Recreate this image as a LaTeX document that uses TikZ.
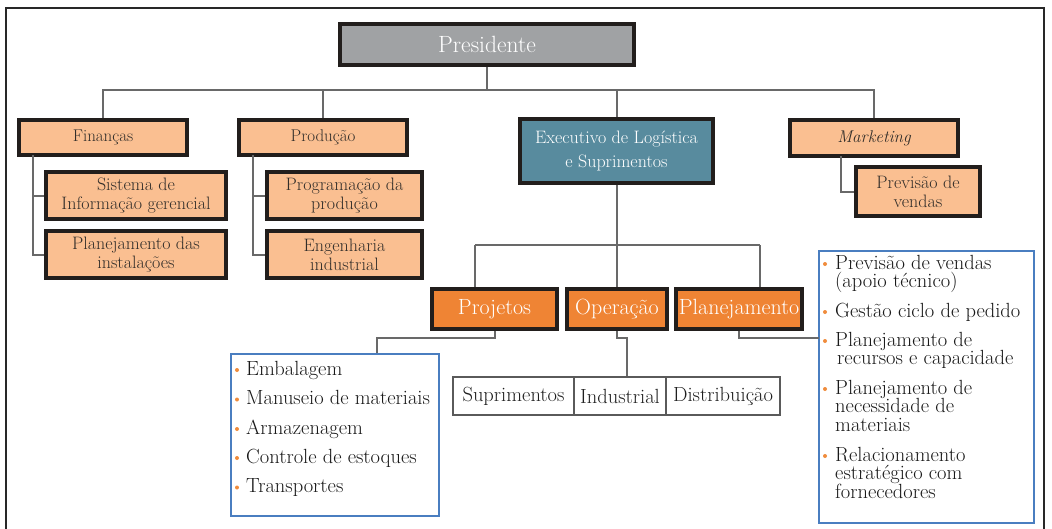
\documentclass[tikz,border=0pt]{standalone}
\definecolor{peachc}{RGB}{250,191,145}
\definecolor{tealc}{RGB}{88,139,158}
\definecolor{orangec}{RGB}{239,132,52}
\definecolor{presc}{RGB}{160,162,164}
\definecolor{edgec}{RGB}{34,30,28}
\definecolor{linec}{RGB}{105,105,105}
\definecolor{bluec}{RGB}{74,126,192}
\definecolor{bulc}{RGB}{240,140,60}
\definecolor{txtc}{RGB}{50,46,42}
\definecolor{framec}{RGB}{40,40,40}
\definecolor{subedge}{RGB}{90,90,90}
\begin{document}
\begin{tikzpicture}[x=1pt,y=-1pt,
  conn/.style={draw=linec, line width=2pt},
  box/.style={draw=edgec, line width=3.2pt, inner sep=0pt, align=center},
  peachbox/.style={box, fill=peachc, text=txtc, font=\fontsize{17}{20}\selectfont},
  subbox/.style={box, fill=peachc, text=txtc, font=\fontsize{18}{19}\selectfont},
  orangebox/.style={box, fill=orangec, text=white, font=\fontsize{22}{24}\selectfont},
  opbox/.style={draw=subedge, line width=2.6pt, fill=white, inner sep=0pt, text=black!88,
                font=\fontsize{20.5}{22}\selectfont},
  listbox/.style={draw=bluec, line width=2.2pt, fill=white, inner sep=0pt},
  item/.style={anchor=base west, inner sep=0pt, text=black!90, font=\fontsize{20.5}{22}\selectfont},
  bullet/.style={fill=bulc},
]
\useasboundingbox (0,0) rectangle (1052,528);

% outer frame, open at the bottom edge
\begin{scope}
  \clip (0,0) rectangle (1052,528);
  \draw[draw=framec, line width=2.4pt] (6,560) -- (6,8) -- (1044,8) -- (1044,560);
\end{scope}

% top level
\node[box, fill=presc, line width=4pt, text=white, font=\fontsize{23.5}{26}\selectfont,
      minimum width=294pt, minimum height=41pt] (pres) at (487,44.5) {Presidente};

\node[peachbox, minimum width=168pt, minimum height=35pt] (fin) at (103,137.5) {Finanças};
\node[peachbox, minimum width=168pt, minimum height=35pt] (prod) at (323,137.5) {Produção};
\node[box, fill=tealc, text=white, font=\fontsize{18}{24}\selectfont,
      minimum width=193pt, minimum height=64pt] (exec) at (616.5,151)
      {Executivo de Logística\\e Suprimentos};
\node[peachbox, minimum width=168pt, minimum height=36pt] (mkt) at (874,138) {\itshape Marketing};

% second level under Finanças, Produção and Marketing
\node[subbox, minimum width=180pt, minimum height=47pt] (sig) at (136,195.5) {Sistema de\\Informação gerencial};
\node[subbox, minimum width=180pt, minimum height=47pt] (plin) at (136,254.5) {Planejamento das\\instalações};
\node[subbox, minimum width=155pt, minimum height=47pt] (prog) at (344.5,195.5) {Programação da\\produção};
\node[subbox, minimum width=155pt, minimum height=47pt] (eng) at (344.5,254.5) {Engenharia\\industrial};
\node[subbox, minimum width=124pt, minimum height=49pt] (prev) at (918,191.5) {Previsão de\\vendas};

% logistics areas
\node[orangebox, minimum width=125pt, minimum height=40pt] (proj) at (494.5,309) {Projetos};
\node[orangebox, minimum width=100pt, minimum height=40pt] (oper) at (617,309) {Operação};
\node[orangebox, minimum width=126pt, minimum height=40pt] (plan) at (739,309) {Planejamento};

\node[opbox, minimum width=121pt, minimum height=38pt] (sup) at (513.5,396) {Suprimentos};
\node[opbox, minimum width=92pt, minimum height=38pt] (ind) at (620,396) {Industrial};
\node[opbox, minimum width=114pt, minimum height=38pt] (dist) at (723,396) {Distribuição};

\node[listbox, minimum width=208pt, minimum height=162pt] (lbox) at (335,435) {};
\node[listbox, minimum width=215pt, minimum height=272pt] (rbox) at (926.5,387) {};

% connectors from the president
\coordinate (bus) at (0,90);
\draw[conn] (pres.south) -- (pres.south |- bus) -| (fin.north);
\draw[conn] (pres.south |- bus) -| (prod.north);
\draw[conn] (pres.south |- bus) -| (exec.north);
\draw[conn] (pres.south |- bus) -| (mkt.north);

% side stems
\coordinate (finstem) at (33,155);
\draw[conn] (finstem) |- (sig.west);
\draw[conn] (finstem) |- (plin.west);
\coordinate (prodstem) at (253,155);
\draw[conn] (prodstem) |- (prog.west);
\draw[conn] (prodstem) |- (eng.west);
\coordinate (mktstem) at (841,156);
\draw[conn] (mktstem) |- (prev.west);

% logistics executive to its areas
\coordinate (pj) at (475,245);
\coordinate (pl) at (760,245);
\draw[conn] (exec.south) -- (exec.south |- oper.north);
\draw[conn] (pj) -- (pl);
\draw[conn] (pj) -- (pj |- proj.north);
\draw[conn] (pl) -- (pl |- plan.north);

% areas to their details
\coordinate (lk) at (377,338);
\draw[conn] (proj.south) |- (lk) -- (lk |- lbox.north);
\coordinate (ok) at (627,338);
\draw[conn] (oper.south) |- (ok) -- (ok |- ind.north);
\coordinate (rk) at (819,338);
\draw[conn] (plan.south) |- (rk);

% project activities
\node[item] (l1) at (246,375) {Embalagem};
\node[item] (l2) at (246,404.5) {Manuseio de materiais};
\node[item] (l3) at (246,434) {Armazenagem};
\node[item] (l4) at (246,463) {Controle de estoques};
\node[item] (l5) at (246,492.5) {Transportes};
\foreach \yy in {375,404.5,434,463,492.5}
  \fill[bullet] (237,\yy-5) circle (2pt);

% planning activities
\node[item] (r1a) at (835,269) {Previsão de vendas};
\node[item] (r1b) at (835,287.5) {(apoio técnico)};
\node[item] (r2a) at (835,317) {Gestão ciclo de pedido};
\node[item] (r3a) at (835,346) {Planejamento de};
\node[item] (r3b) at (837,364.5) {recursos e capacidade};
\node[item] (r4a) at (835,394) {Planejamento de};
\node[item] (r4b) at (835,412.5) {necessidade de};
\node[item] (r4c) at (835,431) {materiais};
\node[item] (r5a) at (835,461) {Relacionamento};
\node[item] (r5b) at (835,479.5) {estratégico com};
\node[item] (r5c) at (835,498) {fornecedores};
\foreach \yy in {269,317,346,394,461}
  \fill[bullet] (825,\yy-5) circle (2pt);
\end{tikzpicture}
\end{document}
